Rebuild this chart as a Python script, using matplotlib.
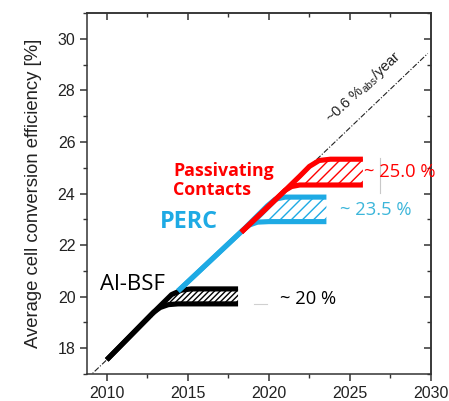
import matplotlib
matplotlib.use("Agg")
import matplotlib.pyplot as plt
from matplotlib.ticker import MultipleLocator

plt.rcParams['font.family'] = ['Liberation Sans', 'DejaVu Sans']
plt.rcParams['mathtext.fontset'] = 'custom'
plt.rcParams['mathtext.rm'] = 'Liberation Sans'
plt.rcParams['hatch.linewidth'] = 1.0

# ---- data -------------------------------------------------------------
# Al-BSF: common rise, then lower / upper branch forming the spread band
albsf_trunk_x = [2010.0, 2012.9]
albsf_trunk_y = [17.55, 19.40]
albsf_low_x = [2012.9, 2013.3, 2013.8, 2014.4, 2018.1]
albsf_low_y = [19.40, 19.58, 19.69, 19.72, 19.72]
albsf_up_x = [2012.9, 2014.0, 2014.6, 2015.2, 2018.1]
albsf_up_y = [19.40, 20.08, 20.25, 20.30, 20.30]

# PERC
perc_trunk_x = [2014.4, 2018.4]
perc_trunk_y = [20.22, 22.58]
perc_low_x = [2018.4, 2018.8, 2019.3, 2020.0, 2023.55]
perc_low_y = [22.58, 22.78, 22.89, 22.91, 22.91]
perc_up_x = [2018.4, 2019.9, 2020.4, 2021.0, 2023.55]
perc_up_y = [22.58, 23.52, 23.78, 23.86, 23.86]

# Passivating contacts
pc_trunk_x = [2018.3, 2021.0]
pc_trunk_y = [22.50, 24.12]
pc_low_x = [2021.0, 2021.4, 2021.9, 2025.8]
pc_low_y = [24.12, 24.27, 24.33, 24.33]
pc_up_x = [2021.0, 2021.9, 2022.5, 2023.1, 2023.8, 2025.8]
pc_up_y = [24.12, 24.67, 25.05, 25.28, 25.33, 25.33]

# long-term trend, ~0.6 %abs per year
trend_x = [2008.8, 2029.8]
trend_slope = 0.6
trend_ref = (2010.0, 17.55)
trend_y = [trend_ref[1] + trend_slope * (x - trend_ref[0]) for x in trend_x]

x_ticks = [2010, 2015, 2020, 2025, 2030]
y_ticks = [18, 20, 22, 24, 26, 28, 30]

BLACK = '#000000'
BLUE = '#1EAAE4'
RED = '#FF0000'
BLUE_TXT = '#3CB6DA'

fig = plt.figure(figsize=(4.49, 4.01), dpi=100)
ax = fig.add_axes([0.1944, 0.0673, 0.7655, 0.9003])
ax.set_xlim(2008.8, 2030)
ax.set_ylim(17, 31)

# trend line
ax.plot(trend_x, trend_y, color='#222222', lw=0.8, dashes=(5, 1.6, 1, 1.6),
        zorder=1)


def technology(trunk_x, trunk_y, low_x, low_y, up_x, up_y, color, hatch, z):
    poly_x = list(up_x) + list(low_x[::-1])
    poly_y = list(up_y) + list(low_y[::-1])
    ax.fill(poly_x, poly_y, facecolor='white', edgecolor=color, hatch=hatch,
            linewidth=0, zorder=z)
    kw = dict(color=color, lw=3.7, solid_capstyle='butt',
              solid_joinstyle='round', zorder=z + 0.5)
    ax.plot(trunk_x + low_x[1:], trunk_y + low_y[1:], **kw)
    ax.plot(trunk_x + up_x[1:], trunk_y + up_y[1:], **kw)


technology(albsf_trunk_x, albsf_trunk_y, albsf_low_x, albsf_low_y,
           albsf_up_x, albsf_up_y, BLACK, '//////', 2)
technology(perc_trunk_x, perc_trunk_y, perc_low_x, perc_low_y,
           perc_up_x, perc_up_y, BLUE, '///', 4)
technology(pc_trunk_x, pc_trunk_y, pc_low_x, pc_low_y,
           pc_up_x, pc_up_y, RED, '///', 6)

# labels
ax.text(2009.6, 20.46, 'Al-BSF', family=['Open Sans', 'DejaVu Sans'],
        fontsize=16, color=BLACK, ha='left', va='center', zorder=10)
ax.text(2013.25, 22.91, 'PERC', family=['Open Sans', 'DejaVu Sans'],
        fontweight='bold', fontsize=16.8, color=BLUE, ha='left', va='center',
        zorder=10)
ax.text(2014.1, 24.5, 'Passivating\nContacts',
        family=['Open Sans', 'DejaVu Sans'], fontweight='bold', fontsize=12.8,
        color=RED, ha='left', va='center', linespacing=1.1, zorder=10)

ax.text(2025.85, 24.84, '~ 25.0 %', family=['Open Sans', 'DejaVu Sans'],
        fontsize=13.2, color=RED, ha='left', va='center', zorder=10)
ax.text(2024.38, 23.36, '~ 23.5 %', family=['Open Sans', 'DejaVu Sans'],
        fontsize=13.2, color=BLUE_TXT, ha='left', va='center', zorder=10)
ax.text(2020.67, 19.91, '~ 20 %', family=['Open Sans', 'DejaVu Sans'],
        fontsize=13.2, color=BLACK, ha='left', va='center', zorder=10)
ax.plot([2026.85, 2026.85], [24.03, 25.38], color='#c8c8c8', lw=0.8,
        zorder=9)
ax.plot([2019.1, 2019.9], [19.72, 19.72], color='#d0d0d0', lw=0.8, zorder=9)

ax.text(2025.85, 28.12, r'~0.6 %$_{\mathrm{abs}}$/year', fontsize=10.5,
        color='#222222', rotation=43, ha='center', va='center',
        rotation_mode='anchor', zorder=10)

ax.set_ylabel('Average cell conversion efficiency [%]', fontsize=13.3,
              color='#222222', labelpad=11)

# axes styling
for s in ax.spines.values():
    s.set_linewidth(1.1)
    s.set_color('#333333')
ax.set_xticks(x_ticks)
ax.set_yticks(y_ticks)
ax.xaxis.set_minor_locator(MultipleLocator(2.5))
ax.yaxis.set_minor_locator(MultipleLocator(1))
ax.tick_params(which='both', direction='out', colors='#333333',
               labelcolor='#222222', labelsize=11.5)
ax.tick_params(which='major', length=5, width=1.1)
ax.tick_params(which='minor', length=3, width=1.0)

top = ax.secondary_xaxis('top')
top.set_xticks(x_ticks)
top.xaxis.set_minor_locator(MultipleLocator(2.5))
top.tick_params(which='both', direction='in', labeltop=False,
                colors='#333333')
top.tick_params(which='major', length=5, width=1.1)
top.tick_params(which='minor', length=3, width=1.0)
right = ax.secondary_yaxis('right')
right.set_yticks(y_ticks)
right.yaxis.set_minor_locator(MultipleLocator(1))
right.tick_params(which='both', direction='in', labelright=False,
                  colors='#333333')
right.tick_params(which='major', length=5, width=1.1)
right.tick_params(which='minor', length=3, width=1.0)
for sec in (top, right):
    for s in sec.spines.values():
        s.set_linewidth(1.1)
        s.set_color('#333333')

fig.savefig('out.png', dpi=100)
